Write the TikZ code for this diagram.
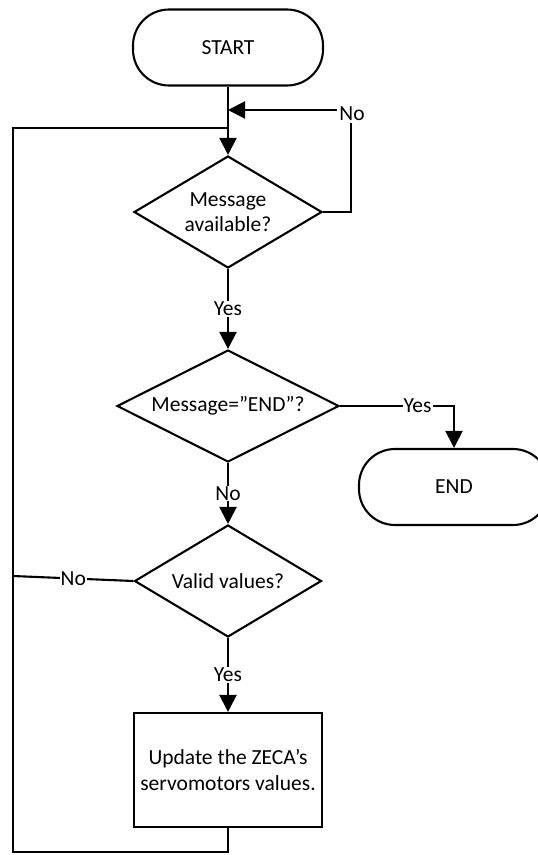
\documentclass[tikz,border=0pt]{standalone}
\usepackage{fontspec}
\setmainfont{Carlito}
\usetikzlibrary{shapes.geometric,arrows.meta}

\begin{document}
\begin{tikzpicture}[x=1pt,y=-1pt,
  every node/.style={font=\fontsize{21.5}{25.5}\selectfont},
  line/.style={line width=2.1pt},
  arrow/.style={line, -{Triangle[length=17pt,width=17pt]}},
  terminal/.style={draw, line width=2.1pt, rectangle, rounded corners=36pt,
    minimum width=190pt, minimum height=76pt, inner sep=0pt},
  decision/.style={draw, line width=2.1pt, diamond, inner sep=0pt, align=center},
  process/.style={draw, line width=2.1pt, rectangle, inner sep=0pt, align=center,
    minimum width=188pt, minimum height=114pt},
  lbl/.style={fill=white, inner sep=1pt}]
  \useasboundingbox (0,0) rectangle (538,855);
  \clip (0,0) rectangle (538,855);

  % Blocks
  \node[terminal] (start) at (228,47.5) {START};
  \node[decision, aspect=1.68, minimum width=188pt, minimum height=112pt] (d1)
    at (228,212) {Message\\available?};
  \node[decision, aspect=1.98, minimum width=222pt, minimum height=112pt] (d2)
    at (228,406) {Message=”END”?};
  \node[terminal] (stop) at (454,487) {END};
  \node[decision, aspect=1.67, minimum width=187pt, minimum height=112pt] (d3)
    at (228,581) {Valid values?};
  \node[process] (upd) at (228,770) {Update the ZECA’s\\servomotors values.};

  % Helper points of the loops
  \coordinate (j1) at (228,110);
  \coordinate (c1) at (351,110);
  \coordinate (c2) at (351,212);
  \coordinate (j2) at (228,128);
  \coordinate (lt) at (13,128);
  \coordinate (lm) at (13,576);
  \coordinate (lb) at (13,852);
  \coordinate (bb) at (228,852);

  % Main flow
  \draw[arrow] (start) -- (d1);
  \draw[arrow] (d1) -- node[lbl] {Yes} (d2);
  \draw[arrow] (d2) -- node[lbl] {No} (d3);
  \draw[arrow] (d3) -- node[lbl] {Yes} (upd);
  \draw[arrow] (d2.east) -- node[lbl, pos=0.68] {Yes} (454,406) -- (stop.north);

  % "No" back to the message check
  \draw[arrow] (d1.east) -- (c2) -- (c1) -- (j1);
  \node[lbl, inner sep=2pt] at (352,114) {No};

  % Invalid values and loop back
  \draw[line] (d3.west) -- node[lbl, pos=0.5] {No} (lm);
  \draw[line] (upd.south) -- (bb) -- (lb) -- (lt) -- (j2);
\end{tikzpicture}
\end{document}
